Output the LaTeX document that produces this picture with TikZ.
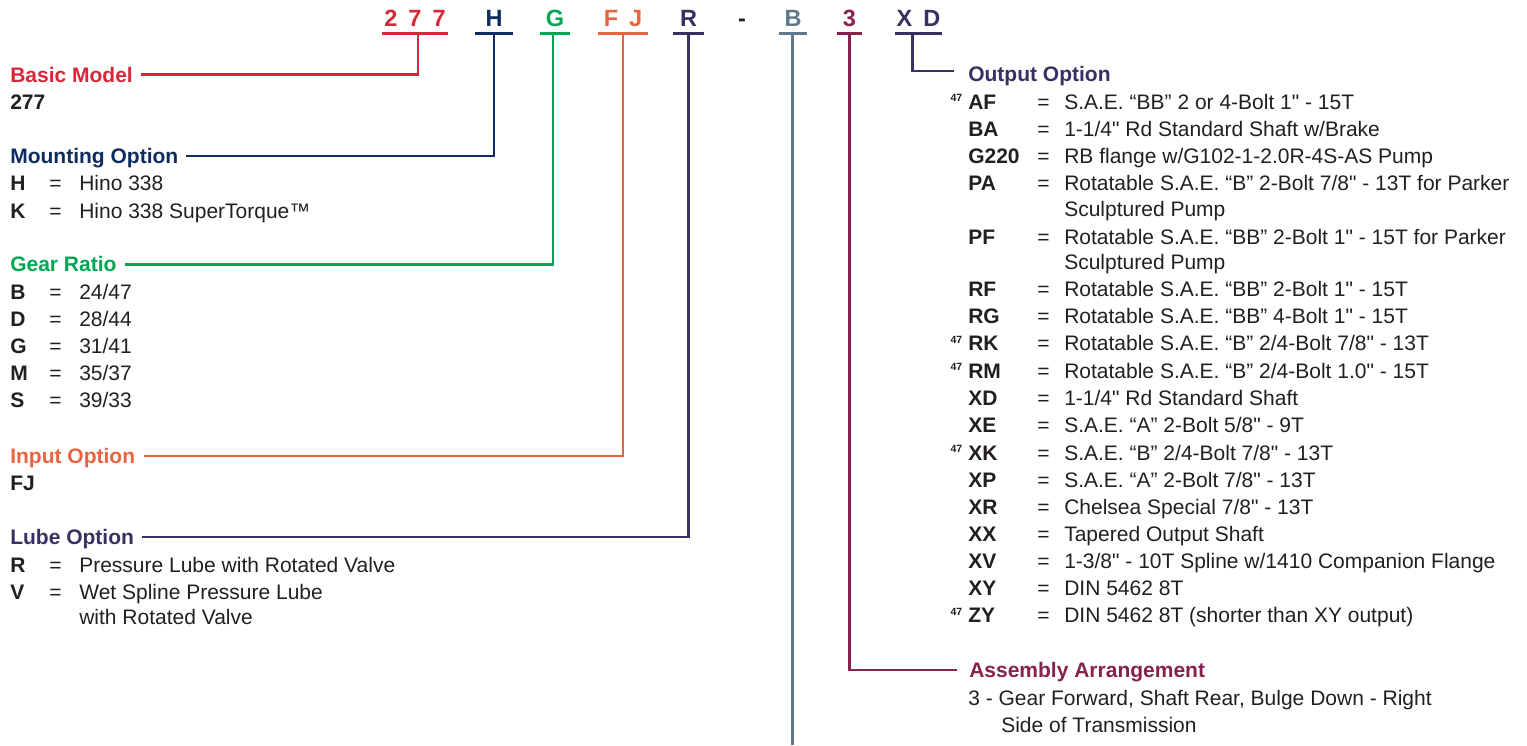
\documentclass[tikz,border=0pt]{standalone}
\usepackage{fontspec}
\newfontfamily\diafont{Liberation Sans}
\definecolor{ink}{RGB}{35,31,32}
\definecolor{modelred}{RGB}{214,40,57}
\definecolor{mountblue}{RGB}{14,44,96}
\definecolor{geargreen}{RGB}{0,166,81}
\definecolor{inputorange}{RGB}{232,100,64}
\definecolor{lubepurple}{RGB}{58,47,97}
\definecolor{slate}{RGB}{96,120,140}
\definecolor{arrmaroon}{RGB}{134,34,76}
\newcommand{\lrow}[2]{\makebox[39pt][l]{\bfseries #1}\makebox[30pt][l]{=}#2}
\newcommand{\orow}[2]{\makebox[69pt][l]{\bfseries #1}\makebox[27pt][l]{=}#2}
\newcommand{\nsup}{\llap{\raisebox{7.5pt}{\fontsize{10.5}{10}\selectfont\bfseries 47}\hspace{6pt}}}

\begin{document}
\begin{tikzpicture}[x=1pt,y=-1pt,line width=2.6pt,
  code/.style={font={\diafont\fontsize{23.5}{23}\selectfont\bfseries},anchor=base,inner xsep=0pt,inner ysep=5.5pt,text height=16.7pt,text depth=0pt},
  head/.style={font={\diafont\fontsize{21}{21}\selectfont\bfseries},anchor=west,inner sep=0pt,text height=15pt,text depth=0pt},
  item/.style={font={\diafont\fontsize{21}{21}\selectfont},anchor=west,inner sep=0pt,text height=15pt,text depth=0pt,text=ink}]
\useasboundingbox (0,0) rectangle (1527,745);
%\draw[help lines] (0,0) grid[xstep=50,ystep=50] (1527,745); %background grid

% model code
\node[code,text=modelred,minimum width=63pt] (c277) at (415,26.7) {2\hspace{11pt}7\hspace{11pt}7};
\node[code,text=mountblue,minimum width=36pt] (cH) at (494,26.7) {H};
\node[code,text=geargreen,minimum width=27pt] (cG) at (555,26.7) {G};
\node[code,text=inputorange,minimum width=48pt] (cFJ) at (623,26.7) {F\hspace{11pt}J};
\node[code,text=lubepurple,minimum width=28.5pt] (cR) at (688.5,26.7) {R};
\node[code,text=ink] (cdash) at (742,26.7) {-};
\node[code,text=slate,minimum width=26pt] (cB) at (793,26.7) {B};
\node[code,text=arrmaroon,minimum width=23pt] (c3) at (849.5,26.7) {3};
\node[code,text=lubepurple,minimum width=45pt] (cXD) at (918.5,26.7) {X\hspace{11pt}D};
\draw[modelred] (c277.south west) -- (c277.south east);
\draw[mountblue] (cH.south west) -- (cH.south east);
\draw[geargreen] (cG.south west) -- (cG.south east);
\draw[inputorange] (cFJ.south west) -- (cFJ.south east);
\draw[lubepurple] (cR.south west) -- (cR.south east);
\draw[slate] (cB.south west) -- (cB.south east);
\draw[arrmaroon] (c3.south west) -- (c3.south east);
\draw[lubepurple] (cXD.south west) -- (cXD.south east);

% left column
\node[head,text=modelred] (basic) at (9,74.5) {Basic Model};
\node[item] (n277) at (9,101.7) {\textbf{277}};

\node[head,text=mountblue] (mount) at (9,156) {Mounting Option};
\node[item] (mH) at (9,183.3) {\lrow{H}{Hino 338}};
\node[item] (mK) at (9,211) {\lrow{K}{Hino 338 SuperTorque™}};

\node[head,text=geargreen] (gear) at (9,264.3) {Gear Ratio};
\node[item] (gB) at (9,292) {\lrow{B}{24/47}};
\node[item] (gD) at (9,319) {\lrow{D}{28/44}};
\node[item] (gG) at (9,346) {\lrow{G}{31/41}};
\node[item] (gM) at (9,373) {\lrow{M}{35/37}};
\node[item] (gS) at (9,400) {\lrow{S}{39/33}};

\node[head,text=inputorange] (input) at (9,456) {Input Option};
\node[item] (nFJ) at (9,483) {\textbf{FJ}};

\node[head,text=lubepurple] (lube) at (9,537) {Lube Option};
\node[item] (lR) at (9,565) {\lrow{R}{Pressure Lube with Rotated Valve}};
\node[item] (lV) at (9,592) {\lrow{V}{Wet Spline Pressure Lube}};
\node[item] (lV2) at (78,617) {with Rotated Valve};

% right column
\node[head,text=lubepurple] (output) at (967,74) {Output Option};
\node[item] (oAF) at (967,101.7) {\nsup\orow{AF}{S.A.E. “BB” 2 or 4-Bolt 1" - 15T}};
\node[item] (oBA) at (967,128.5) {\orow{BA}{1-1/4" Rd Standard Shaft w/Brake}};
\node[item] (oG) at (967,156) {\orow{G220}{RB flange w/G102-1-2.0R-4S-AS Pump}};
\node[item] (oPA) at (967,183) {\orow{PA}{Rotatable S.A.E. “B” 2-Bolt 7/8" - 13T for Parker}};
\node[item] (oPA2) at (1063,209) {Sculptured Pump};
\node[item] (oPF) at (967,236.5) {\orow{PF}{Rotatable S.A.E. “BB” 2-Bolt 1" - 15T for Parker}};
\node[item] (oPF2) at (1063,262) {Sculptured Pump};
\node[item] (oRF) at (967,288.5) {\orow{RF}{Rotatable S.A.E. “BB” 2-Bolt 1" - 15T}};
\node[item] (oRG) at (967,315.5) {\orow{RG}{Rotatable S.A.E. “BB” 4-Bolt 1" - 15T}};
\node[item] (oRK) at (967,343) {\nsup\orow{RK}{Rotatable S.A.E. “B” 2/4-Bolt 7/8" - 13T}};
\node[item] (oRM) at (967,370.5) {\nsup\orow{RM}{Rotatable S.A.E. “B” 2/4-Bolt 1.0" - 15T}};
\node[item] (oXD) at (967,398) {\orow{XD}{1-1/4" Rd Standard Shaft}};
\node[item] (oXE) at (967,425) {\orow{XE}{S.A.E. “A” 2-Bolt 5/8" - 9T}};
\node[item] (oXK) at (967,452.5) {\nsup\orow{XK}{S.A.E. “B” 2/4-Bolt 7/8" - 13T}};
\node[item] (oXP) at (967,480) {\orow{XP}{S.A.E. “A” 2-Bolt 7/8" - 13T}};
\node[item] (oXR) at (967,507) {\orow{XR}{Chelsea Special 7/8" - 13T}};
\node[item] (oXX) at (967,534) {\orow{XX}{Tapered Output Shaft}};
\node[item] (oXV) at (967,561) {\orow{XV}{1-3/8" - 10T Spline w/1410 Companion Flange}};
\node[item] (oXY) at (967,588) {\orow{XY}{DIN 5462 8T}};
\node[item] (oZY) at (967,615) {\nsup\orow{ZY}{DIN 5462 8T (shorter than XY output)}};

\node[head,text=arrmaroon] (assembly) at (968,670) {Assembly Arrangement};
\node[item] (a3) at (967,697.5) {3 - Gear Forward, Shaft Rear, Bulge Down - Right};
\node[item] (a3b) at (1000,725) {Side of Transmission};

% connectors
\draw[modelred] ([xshift=3pt]c277.south) |- ([xshift=7pt]basic.east);
\draw[mountblue] (cH.south) |- ([xshift=6pt]mount.east);
\draw[geargreen] ([xshift=-2pt]cG.south) |- ([xshift=7pt]gear.east);
\draw[inputorange] (cFJ.south) |- ([xshift=8pt]input.east);
\draw[lubepurple] (cR.south) |- ([xshift=7pt]lube.east);
\coordinate (bend) at (792.5,745);
\draw[slate] ([xshift=-0.5pt]cB.south) -- (bend);
\draw[arrmaroon] (c3.south) |- ([xshift=-11pt]assembly.west);
\draw[lubepurple] ([xshift=-6pt]cXD.south) |- ([xshift=-13pt,yshift=3pt]output.west);
\end{tikzpicture}
\end{document}
